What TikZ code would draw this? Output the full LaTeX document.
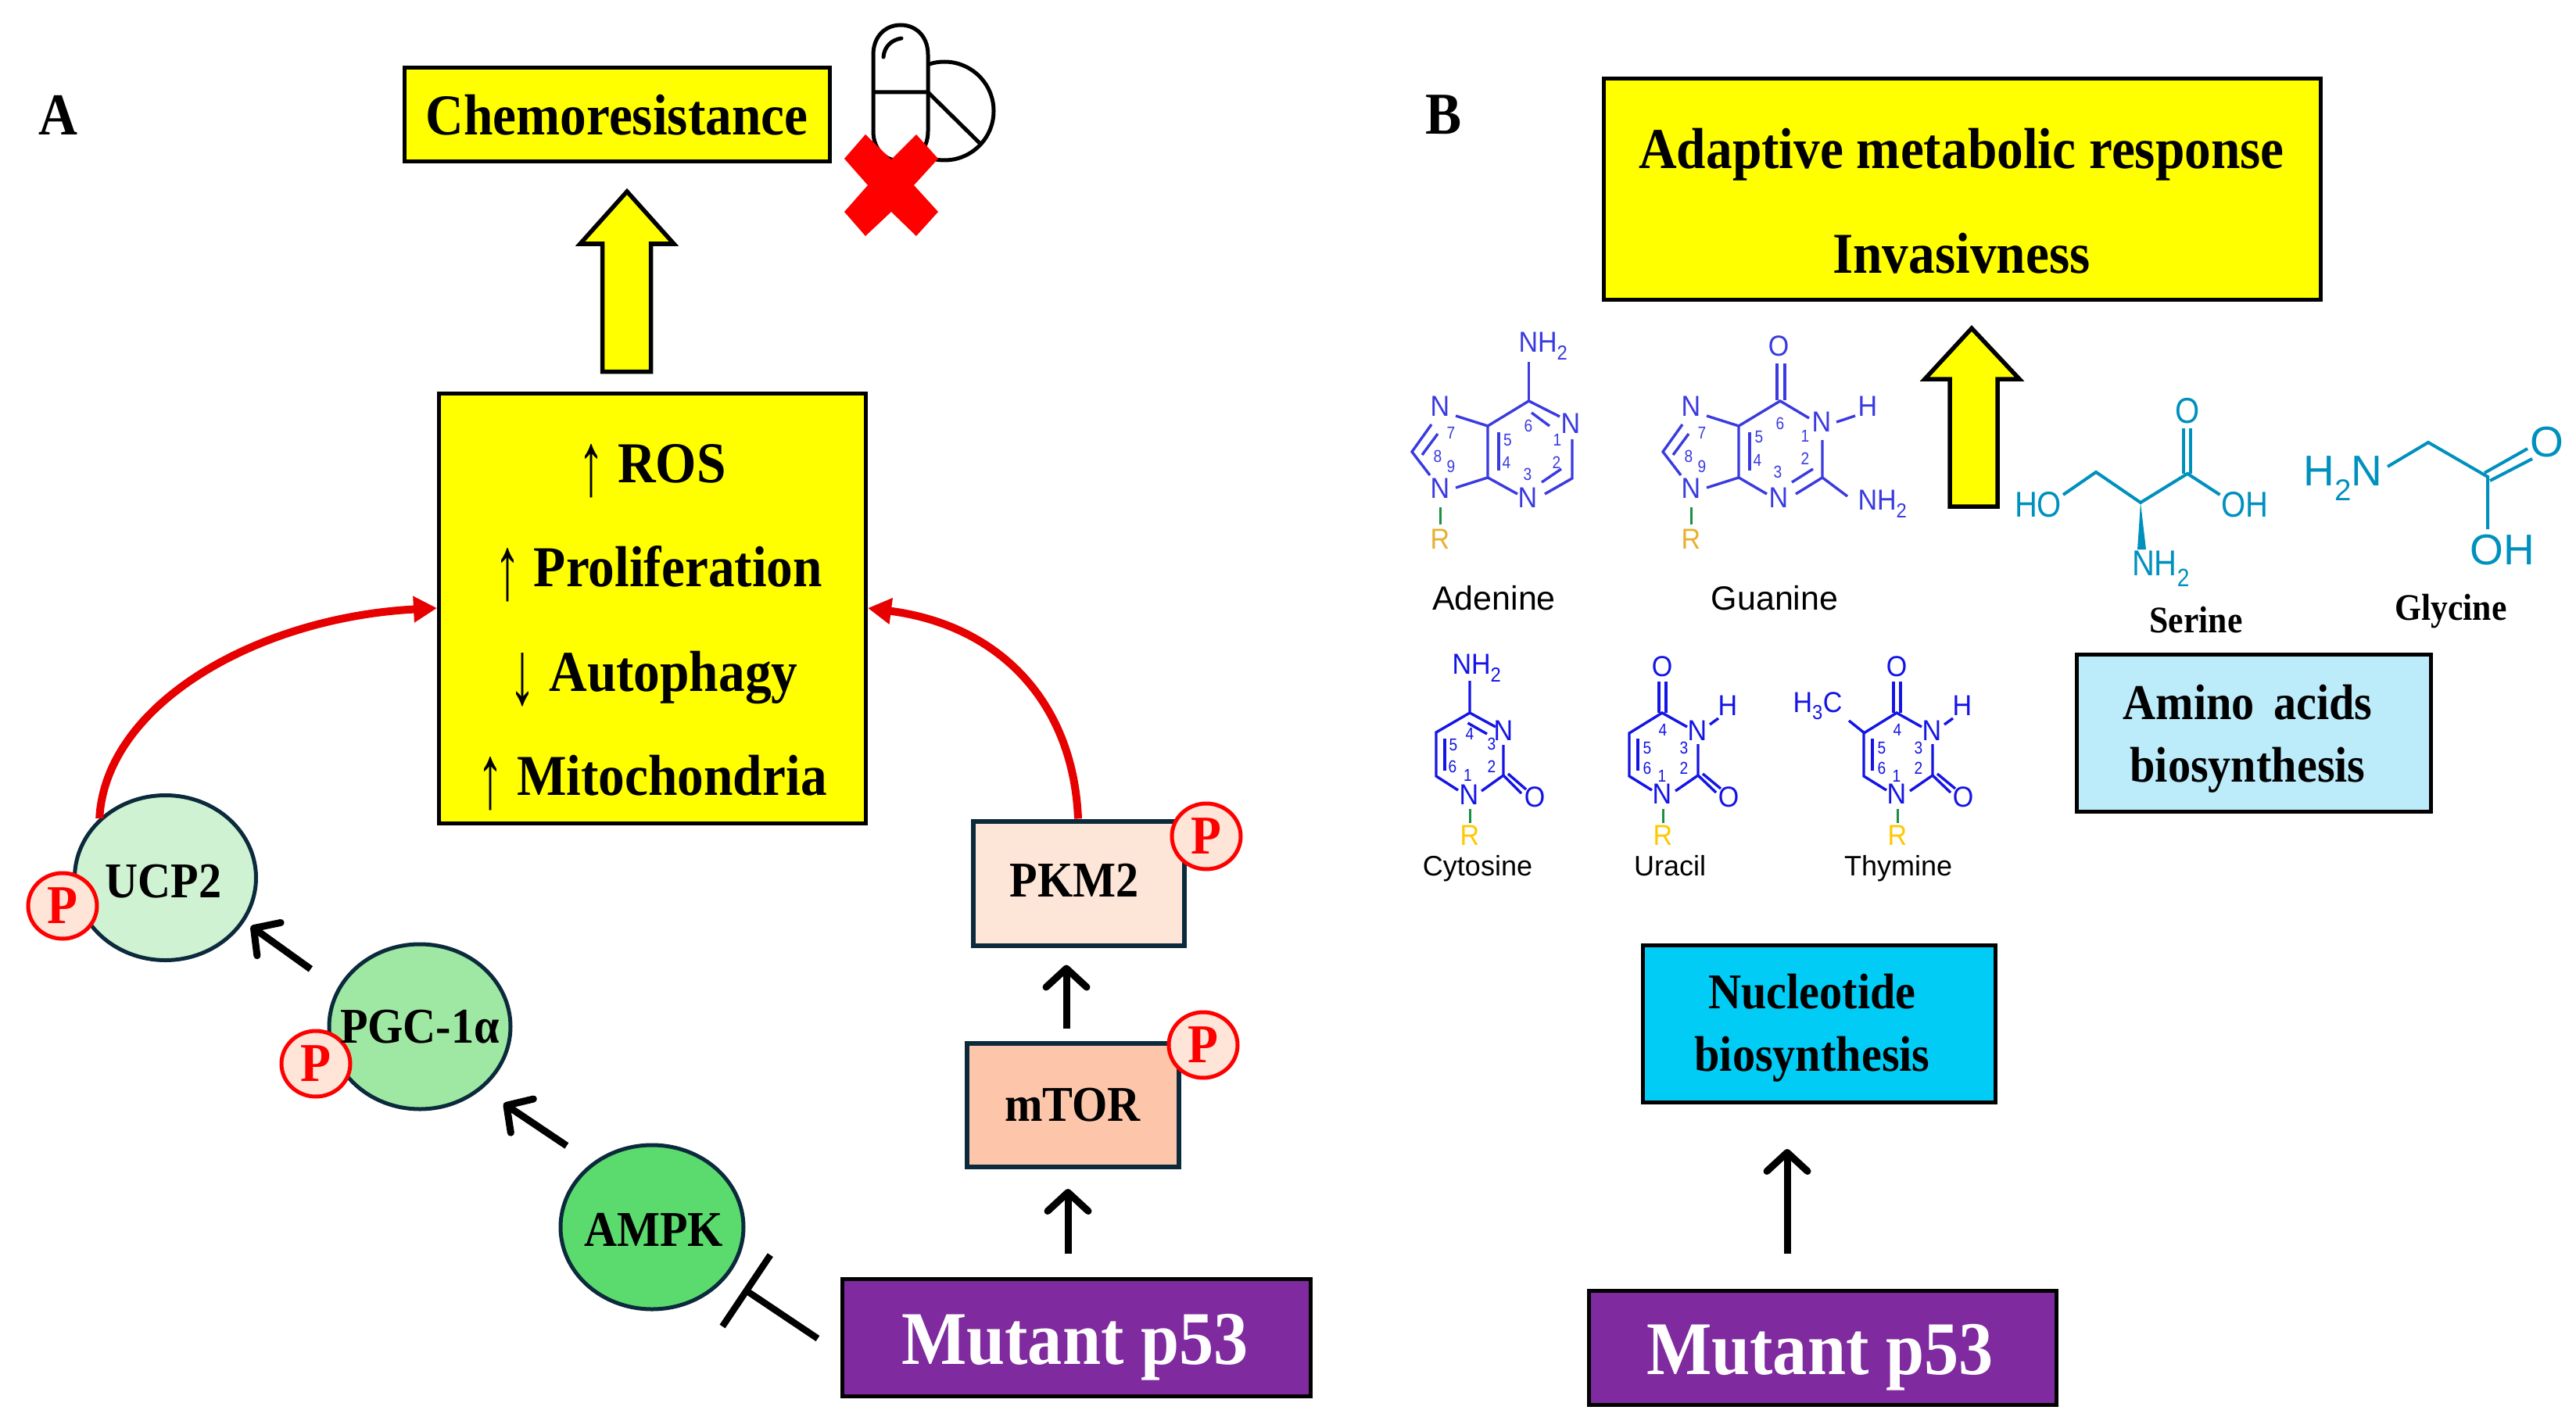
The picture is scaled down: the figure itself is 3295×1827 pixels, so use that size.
\documentclass[tikz,border=0pt]{standalone}
\usepackage{graphicx}
\usepackage{fontspec}
\usetikzlibrary{arrows.meta,shapes.geometric,calc}
\setmainfont{Liberation Serif}
\newfontfamily\tbf[FakeStretch=0.91]{Liberation Serif}
\newfontfamily\chemf[FakeStretch=0.92]{Liberation Sans}
\newfontfamily\chemg[FakeStretch=0.87]{Liberation Sans}
\newfontfamily\namef{Liberation Sans}
\definecolor{panelyellow}{HTML}{FFFF00}
\definecolor{darkedge}{HTML}{0B2A3C}
\definecolor{ucpfill}{HTML}{CFF2D2}
\definecolor{pgcfill}{HTML}{9FE8A3}
\definecolor{ampkfill}{HTML}{5BDB6E}
\definecolor{pfill}{HTML}{FFE4D8}
\definecolor{pkmfill}{HTML}{FDE5D8}
\definecolor{mtorfill}{HTML}{FDC6AB}
\definecolor{purple53}{HTML}{7F2A9E}
\definecolor{nucfill}{HTML}{00CCF5}
\definecolor{aminofill}{HTML}{BCEBFA}
\definecolor{redline}{HTML}{E60000}
\definecolor{purblue}{HTML}{3A3AE0}
\definecolor{pyrblue}{HTML}{1414E6}
\definecolor{rgold}{HTML}{E8B030}
\definecolor{rgold2}{HTML}{FFC800}
\definecolor{rgreen}{HTML}{1A9040}
\definecolor{aminoblue}{HTML}{0090BE}
\newcommand{\upar}{\raisebox{-16pt}{\resizebox{34pt}{65pt}{\mdseries ↑}}}
\newcommand{\dnar}{\raisebox{-16pt}{\resizebox{34pt}{65pt}{\mdseries ↓}}}
\tikzset{
  x=1pt,y=-1pt,
  bx/.style={draw=black,line width=5pt,fill=panelyellow,inner sep=0pt,align=center},
  serifb/.style={font=\tbf\bfseries\fontsize{#1}{#1}\selectfont},
  txt/.style={anchor=base,inner sep=0pt,font=\tbf\bfseries\fontsize{#1}{#1}\selectfont},
  circ/.style={ellipse,draw=darkedge,line width=5pt,inner sep=0pt,minimum width=232pt,minimum height=211pt},
  pcirc/.style={ellipse,draw=red,line width=5pt,fill=pfill,text=red,inner sep=0pt,minimum width=88pt,minimum height=84pt,font=\tbf\bfseries\fontsize{70}{70}\selectfont},
  barbline/.style={draw=black,line width=9pt,-{Straight Barb[round,length=24pt,width=52pt]}},
  redcurve/.style={draw=redline,line width=10pt,-{Triangle[length=30pt,width=32pt]}},
  bigarrow/.style={draw=black,line width=5.5pt,fill=panelyellow,miter limit=6},
  pur/.style={draw=purblue,line width=3.4pt},
  pyr/.style={draw=pyrblue,line width=3.4pt},
  ami/.style={draw=aminoblue,line width=4pt},
  rbond/.style={draw=rgreen,line width=3pt},
  atm/.style={inner sep=0pt,font=\chemf\fontsize{37}{37}\selectfont},
  num/.style={inner sep=0pt,font=\chemg\fontsize{22}{22}\selectfont},
  mname/.style={anchor=base,inner sep=0pt,font=\namef\fontsize{#1}{#1}\selectfont,text=black},
  amiatm/.style={inner sep=0pt,text=aminoblue,font=\chemg\fontsize{46}{46}\selectfont},
  glyatm/.style={inner sep=0pt,text=aminoblue,font=\namef\fontsize{55}{55}\selectfont},
}
\newcommand{\purinering}{%
  \draw[pur] (1862,532)--(1903,545)--(1903,611)--(1862,624);
  \draw[pur] (1917,553)--(1917,602);
  \draw[pur] (1831,543)--(1806,578)--(1829,608);
  \draw[pur] (1839,555)--(1819,582);
  \draw[rbond] (1842,649)--(1842,671);
  \node[atm,text=purblue] (n7) at (1842,520) {N};
  \node[atm,text=purblue] (n9) at (1842,625) {N};
  \node[atm,text=rgold] (rr) at (1842,690) {R};
  \node[num,text=purblue] (d7) at (1856,554) {7};
  \node[num,text=purblue] (d8) at (1839,584) {8};
  \node[num,text=purblue] (d9) at (1856,597) {9};
}
\newcommand{\uracilcore}{%
  \draw[pyr] (2122,872)--(2122,912) (2131,872)--(2131,912);
  \draw[pyr] (2158,930)--(2126,912)--(2084,938)--(2084,993)--(2113,1011);
  \draw[pyr] (2095,945)--(2095,986);
  \draw[pyr] (2172,952)--(2172,992)--(2143,1012);
  \draw[pyr] (2172,992)--(2195,1014) (2178,990)--(2201,1009);
  \draw[pyr] (2187,927)--(2198,919);
  \draw[rbond] (2127,1035)--(2127,1053);
  \node[atm,text=pyrblue] (o4) at (2126,853) {O};
  \node[atm,text=pyrblue] (n3) at (2171,935) {N};
  \node[atm,text=pyrblue] (hh) at (2210,903) {H};
  \node[atm,text=pyrblue] (n1) at (2126,1016) {N};
  \node[atm,text=pyrblue] (o2) at (2211,1020) {O};
  \node[atm,text=rgold2] (rr) at (2127,1069) {R};
  \node[num,text=pyrblue] (d4) at (2127,934) {4};
  \node[num,text=pyrblue] (d5) at (2107,957) {5};
  \node[num,text=pyrblue] (d3) at (2154,957) {3};
  \node[num,text=pyrblue] (d6) at (2107,983) {6};
  \node[num,text=pyrblue] (d2) at (2154,983) {2};
  \node[num,text=pyrblue] (d1) at (2126,993) {1};
}
\begin{document}
\begin{tikzpicture}
\useasboundingbox (0,0) rectangle (3295,1827);
% panel letters
\node[serifb=76,inner sep=0pt] (lblA) at (74,147) {A};
\node[serifb=76,inner sep=0pt] (lblB) at (1847,147) {B};
% panel A boxes
\node[bx,serifb=74,minimum width=544pt,minimum height=120pt] (chemo) at (789,147) {Chemoresistance};
\node[bx,minimum width=546pt,minimum height=550pt] (ros) at (834.5,778) {};
\node[txt=74] (ros1) at (834,617) {\upar{} ROS};
\node[txt=74] (ros2) at (842,750) {\upar{} Proliferation};
\node[txt=74] (ros3) at (836,884) {\dnar{} Autophagy};
\node[txt=74] (ros4) at (834,1017) {\upar{} Mitochondria};
% pill
\draw[black,line width=5pt] (1208,142) circle[radius=63];
\draw[black,line width=5pt,fill=white] (1117,70) .. controls (1117,46) and (1133,32) .. (1152,32) .. controls (1171,32) and (1187,46) .. (1187,70) -- (1187,168) .. controls (1187,192) and (1171,206) .. (1152,206) .. controls (1133,206) and (1117,192) .. (1117,168) -- cycle;
\draw[black,line width=5pt] (1117,118) -- (1187,118) -- (1253,183);
\draw[black,line width=5pt,line cap=round] (1130,73) .. controls (1131,60) and (1140,51) .. (1153,49);
\fill[red] (1107,172) -- (1140,204) -- (1172,172) -- (1200,203) -- (1169,237) -- (1200,271) -- (1172,302) -- (1140,271) -- (1107,302) -- (1080,271) -- (1110,237) -- (1080,203) -- cycle;
% up arrow A
\draw[bigarrow] (802,245) -- (862,312) -- (832.5,312) -- (832.5,475.5) -- (770.5,475.5) -- (770.5,312) -- (742,312) -- cycle;
% circles
\node[circ,fill=ucpfill] (ucp) at (211.5,1123) {};
\node[txt=64] (ucpt) at (209,1148) {UCP2};
\node[circ,fill=pgcfill] (pgc) at (537,1313.5) {};
\node[pcirc] (pu) at (80,1159) {P};
\node[pcirc] (pp) at (404,1361) {P};
\node[txt=64] (pgct) at (537,1334) {PGC-1α};
\node[circ,fill=ampkfill,minimum width=234pt,minimum height=210pt] (ampk) at (834,1570) {};
\node[txt=64] (ampkt) at (836,1594) {AMPK};
% boxes on right
\node[bx,draw=darkedge,line width=6pt,fill=pkmfill,minimum width=270pt,minimum height=159pt] (pkm) at (1380,1130) {};
\node[txt=64] (pkmt) at (1374,1147) {PKM2};
\node[bx,draw=darkedge,line width=6pt,fill=mtorfill,minimum width=271pt,minimum height=158pt] (mtor) at (1372.5,1414) {};
\node[txt=64] (mtort) at (1372,1434) {mTOR};
\node[pcirc] (pk) at (1543,1070) {P};
\node[pcirc] (pm) at (1539,1337) {P};
\node[bx,fill=purple53,minimum width=599pt,minimum height=150pt] (mutA) at (1377,1711) {};
\node[txt=97,text=white] (mutAt) at (1375,1745) {Mutant p53};
% connectors A
\draw[redcurve] (ucp.138) .. controls (135,900) and (330,790) .. (ros.west);
\draw[redcurve] ([xshift=-1pt]pkm.north) .. controls (1373,900) and (1280,800) .. (ros.east);
\draw[barbline,shorten <=42pt,shorten >=10pt] (pgc.155) -- (ucp.-29);
\draw[barbline,shorten <=39pt,shorten >=33pt] (ampk.133) -- (pgc.-45);
\draw[barbline,shorten <=16pt,shorten >=22pt] ([xshift=-8.5pt]mtor.north) -- ([xshift=-16pt]pkm.south);
\draw[barbline,shorten <=30pt,shorten >=25pt] ([xshift=-11pt]mutA.north) -- ([xshift=-6.5pt]mtor.south);
\draw[draw=black,line width=8.5pt,shorten <=35pt,shorten >=26pt,-{Bar[width=110pt,line width=8.5pt]}] ([yshift=-21pt]mutA.west) -- (ampk.-34);
% panel B
\node[bx,minimum width=917pt,minimum height=282pt] (adapt) at (2510,242) {};
\node[txt=74] (adapt1) at (2509,216) {Adaptive metabolic response};
\node[txt=74] (adapt2) at (2509,349) {Invasivness};
\draw[bigarrow] (2522,420) -- (2583,485) -- (2555,485) -- (2555,648) -- (2494,648) -- (2494,485) -- (2462,485) -- cycle;
% adenine
\begin{scope}[name prefix=ad-]
\purinering
\draw[pur] (1955.5,463)--(1955.5,513);
\draw[pur] (1903,545)--(1955.5,513)--(1995,533);
\draw[pur] (1959,528)--(1982,545);
\draw[pur] (1903,611)--(1941,632);
\draw[pur] (1976,632)--(2011,612)--(2011,562);
\draw[pur] (1972,617)--(1997,600);
\node[atm,text=purblue] (nh) at (1974,443) {NH\textsubscript{2}};
\node[atm,text=purblue] (n1) at (2009,542) {N};
\node[atm,text=purblue] (n3) at (1954,637) {N};
\node[num,text=purblue] (d6) at (1955,545) {6};
\node[num,text=purblue] (d5) at (1928.5,563) {5};
\node[num,text=purblue] (d4) at (1927,592) {4};
\node[num,text=purblue] (d3) at (1954,607) {3};
\node[num,text=purblue] (d2) at (1991,592) {2};
\node[num,text=purblue] (d1) at (1992,563) {1};
\end{scope}
\node[mname=43] (adenine) at (1911,780) {Adenine};
% guanine
\begin{scope}[xshift=321pt,name prefix=gu-]
\purinering
\end{scope}
\begin{scope}[name prefix=gu-]
\draw[pur] (2224,545)--(2277,513)--(2314,535);
\draw[pur] (2273,465)--(2273,512) (2283,465)--(2283,512);
\draw[pur] (2349,540)--(2373,532);
\draw[pur] (2331,563)--(2331,611)--(2297,632);
\draw[pur] (2319,600)--(2292,617);
\draw[pur] (2224,611)--(2260,632);
\draw[pur] (2331,611)--(2363,635);
\node[atm,text=purblue] (o6) at (2275,443) {O};
\node[atm,text=purblue] (n1) at (2330,540) {N};
\node[atm,text=purblue] (hh) at (2389,520) {H};
\node[atm,text=purblue] (n3) at (2275,637) {N};
\node[atm,text=purblue] (nh) at (2408,645) {NH\textsubscript{2}};
\node[num,text=purblue] (d6) at (2277,542) {6};
\node[num,text=purblue] (d5) at (2250,559) {5};
\node[num,text=purblue] (d4) at (2248,589) {4};
\node[num,text=purblue] (d3) at (2274,604) {3};
\node[num,text=purblue] (d2) at (2309,587) {2};
\node[num,text=purblue] (d1) at (2309,558) {1};
\end{scope}
\node[mname=43] (guanine) at (2270,780) {Guanine};
% cytosine
\begin{scope}[name prefix=cy-]
\draw[pyr] (1880,871)--(1880,912)--(1913,930);
\draw[pyr] (1877.5,925)--(1902,939);
\draw[pyr] (1923,953)--(1923,992)--(1895,1012);
\draw[pyr] (1865,1011)--(1837,993)--(1837,937)--(1880,912);
\draw[pyr] (1848,945)--(1848,986);
\draw[pyr] (1923,992)--(1946,1015) (1929,990)--(1952,1010);
\draw[rbond] (1880,1035)--(1880,1053);
\node[atm,text=pyrblue] (nh) at (1889,855) {NH\textsubscript{2}};
\node[atm,text=pyrblue] (n3) at (1923,935) {N};
\node[atm,text=pyrblue] (n1) at (1879,1017) {N};
\node[atm,text=pyrblue] (o2) at (1963,1020) {O};
\node[atm,text=rgold2] (rr) at (1880,1069) {R};
\node[num,text=pyrblue] (d4) at (1880,939) {4};
\node[num,text=pyrblue] (d3) at (1908,952) {3};
\node[num,text=pyrblue] (d5) at (1859,953) {5};
\node[num,text=pyrblue] (d6) at (1858,981) {6};
\node[num,text=pyrblue] (d2) at (1908,981) {2};
\node[num,text=pyrblue] (d1) at (1877.5,992) {1};
\end{scope}
\node[mname=36] (cytosine) at (1890,1120) {Cytosine};
% uracil
\begin{scope}[name prefix=ur-]
\uracilcore
\end{scope}
\node[mname=36] (uracil) at (2136,1120) {Uracil};
% thymine
\begin{scope}[xshift=300pt,name prefix=th-]
\uracilcore
\draw[pyr] (2065,922)--(2085,938);
\node[atm,text=pyrblue] (ch) at (2025,903) {H\textsubscript{3}C};
\end{scope}
\node[mname=36] (thymine) at (2428,1120) {Thymine};
% serine
\begin{scope}[name prefix=se-]
\draw[ami] (2639,633)--(2681,604)--(2738,643)--(2798,606)--(2839.5,633);
\draw[ami] (2793,548)--(2793,606) (2802,548)--(2802,606);
\fill[aminoblue] (2738,643) -- (2734,703) -- (2745,703) -- cycle;
\node[amiatm] (ho) at (2607,646) {HO};
\node[amiatm] (oo) at (2798,526) {O};
\node[amiatm] (oh) at (2871,646) {OH};
\node[amiatm] (nh) at (2764,728) {NH\textsubscript{2}};
\end{scope}
\node[serifb=48,inner sep=0pt] (serine) at (2809,793) {Serine};
% glycine
\begin{scope}[name prefix=gl-]
\draw[ami] (3054,597)--(3106,566)--(3182,610)--(3182,677);
\draw[ami] (3178,605)--(3233,574) (3185,615)--(3239,587);
\node[glyatm] (nh) at (2997,612) {H\textsubscript{2}N};
\node[glyatm] (oo) at (3258,566) {O};
\node[glyatm] (oh) at (3201,704) {OH};
\end{scope}
\node[serifb=48,inner sep=0pt] (glycine) at (3135,782) {Glycine};
% boxes B
\node[bx,fill=aminofill,minimum width=453pt,minimum height=201pt] (amino) at (2883,938) {};
\node[txt=64] (amino1) at (2875,920) {Amino\hspace{24pt}acids};
\node[txt=64] (amino2) at (2875,1000) {biosynthesis};
\node[bx,fill=nucfill,minimum width=451pt,minimum height=201pt] (nuc) at (2327,1310) {};
\node[txt=64] (nuc1) at (2318,1290) {Nucleotide};
\node[txt=64] (nuc2) at (2318,1370) {biosynthesis};
\node[bx,fill=purple53,minimum width=598pt,minimum height=146pt] (mutB) at (2331.5,1724) {};
\node[txt=97,text=white] (mutBt) at (2328,1758) {Mutant p53};
\draw[barbline,shorten <=45pt,shorten >=57pt] ([xshift=-45.5pt]mutB.north) -- ([xshift=-41pt]nuc.south);
\end{tikzpicture}
\end{document}
